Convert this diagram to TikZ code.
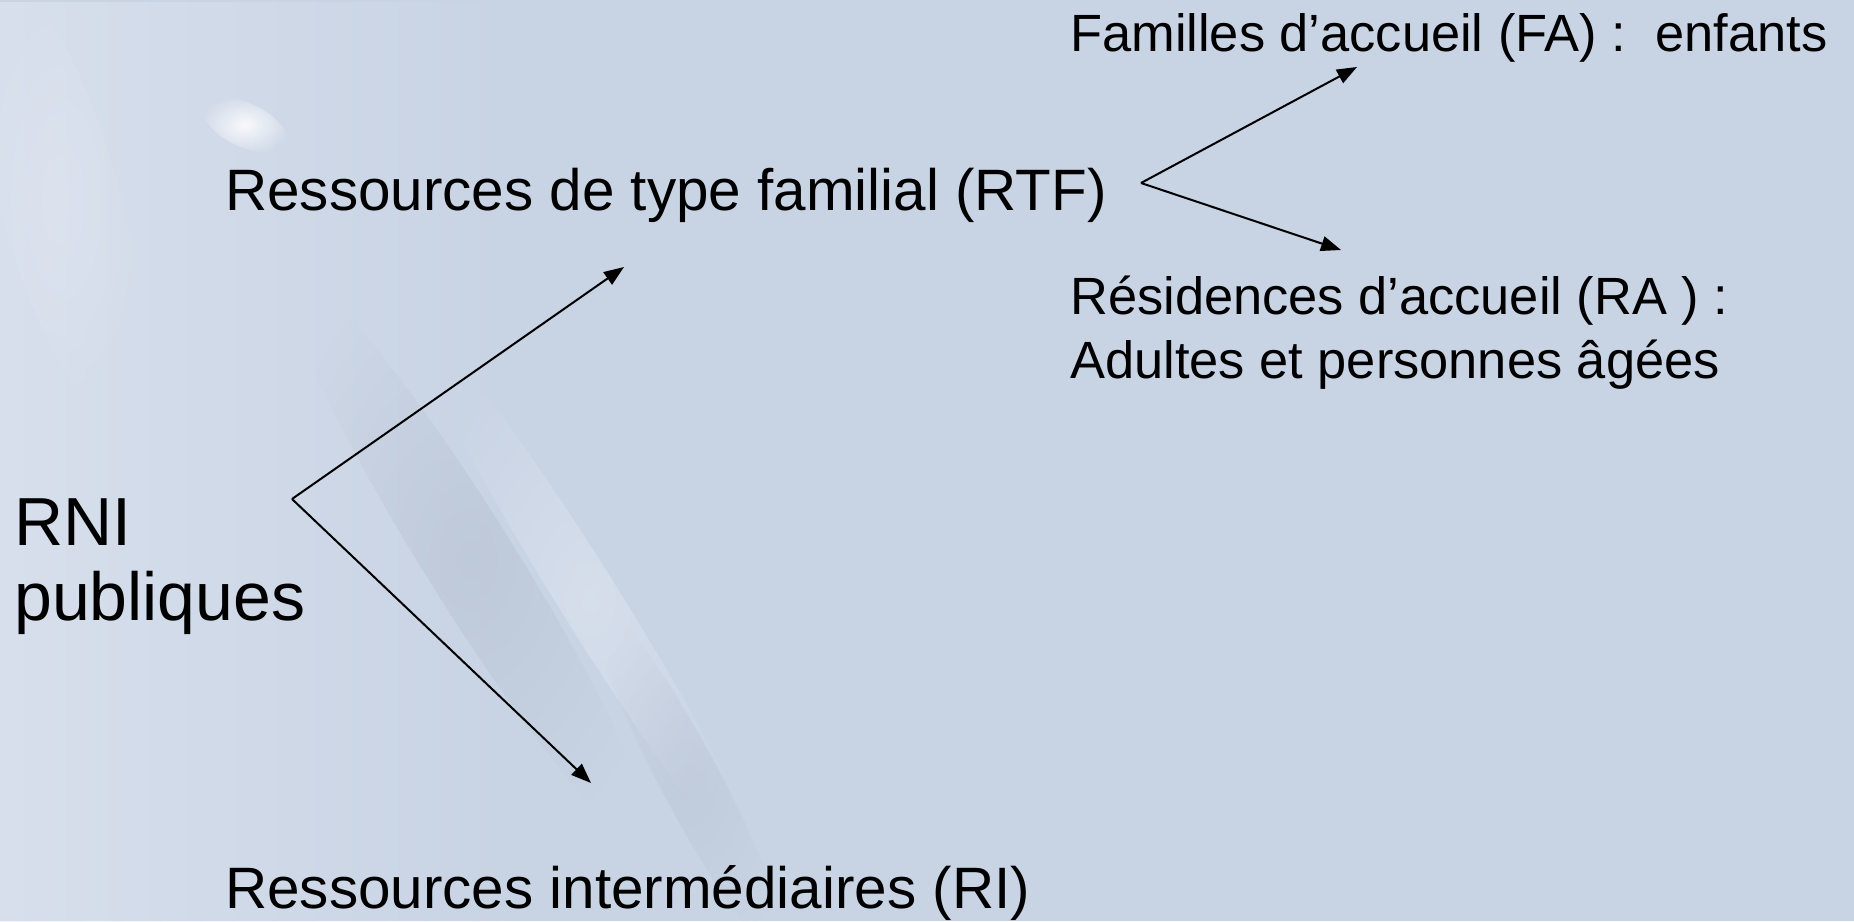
\documentclass[tikz,border=0pt]{standalone}
\usepackage{fontspec}
\setmainfont{Liberation Sans}
\usetikzlibrary{arrows.meta,fadings}
\definecolor{bgc}{RGB}{200,211,228}
\definecolor{bgl}{RGB}{226,232,242}
\definecolor{bgd}{RGB}{178,188,204}
\tikzfading[name=fadeR, left color=transparent!0, right color=transparent!100]
\tikzfading[name=fuzzy, inner color=transparent!0, outer color=transparent!100]
\tikzset{
  big/.style={anchor=base west, inner sep=0pt, font=\fontsize{58.4}{70}\selectfont},
  small/.style={anchor=base west, inner sep=0pt, font=\fontsize{52.4}{63}\selectfont},
  huge/.style={anchor=base west, inner sep=0pt, font=\fontsize{68}{80}\selectfont},
  arr/.style={line width=2pt, -{Triangle[length=20pt,width=15pt]}},
}
\begin{document}
\begin{tikzpicture}[x=1pt,y=-1pt]
\fill[bgc] (0,0) rectangle (1854,921);
\useasboundingbox (0,0) rectangle (1854,921);
% soft background texture
\fill[bgl, opacity=0.6, path fading=fadeR] (0,0) rectangle (520,921);
\fill[white, opacity=0.85, path fading=fuzzy, rotate around={-25:(245,125)}] (245,125) ellipse (45pt and 22pt);
\fill[bgd, opacity=0.45, path fading=fuzzy, rotate around={-58:(470,560)}] (470,560) ellipse (340pt and 45pt);
\fill[bgl, opacity=0.55, path fading=fuzzy, rotate around={-58:(590,600)}] (590,600) ellipse (330pt and 30pt);
\fill[bgd, opacity=0.35, path fading=fuzzy, rotate around={-62:(690,780)}] (690,780) ellipse (200pt and 30pt);
\fill[bgl, opacity=0.5, path fading=fuzzy, rotate around={-75:(60,200)}] (60,200) ellipse (220pt and 60pt);
% texts
\node[big] (rtf) at (225,210) {Ressources de type familial (RTF)};
\node[big] (ri) at (225,908) {Ressources intermédiaires (RI)};
\node[small] (fa) at (1070,51) {Familles d’accueil (FA) :\ \ enfants};
\node[small] (ra1) at (1070,314) {Résidences d’accueil (RA ) :};
\node[small] (ra2) at (1070,378) {Adultes et personnes âgées};
\node[huge] (rni1) at (14,545) {RNI};
\node[huge] (rni2) at (14,620) {publiques};
% connectors
\coordinate (v1) at (292,499);
\coordinate (t1) at (624,267);
\coordinate (t2) at (591,783);
\coordinate (v2) at (1141,183);
\coordinate (t3) at (1357,67);
\coordinate (t4) at (1341,250);
\draw[arr] (v1) -- (t1);
\draw[arr] (v1) -- (t2);
\draw[arr] (v2) -- (t3);
\draw[arr] (v2) -- (t4);
\end{tikzpicture}
\end{document}
